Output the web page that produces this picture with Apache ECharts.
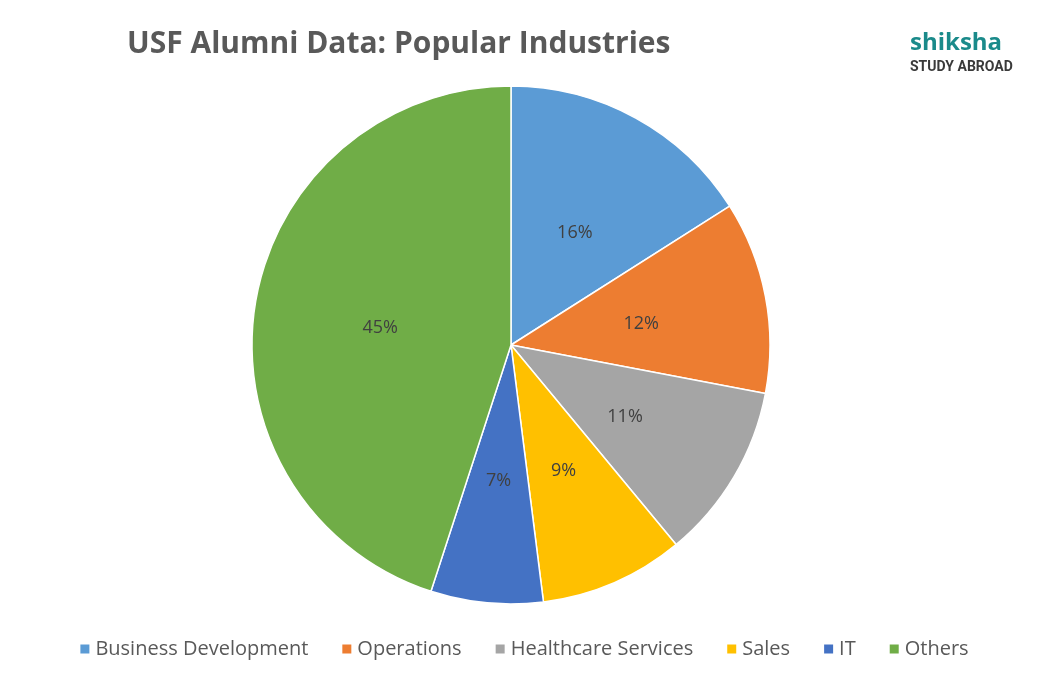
<!DOCTYPE html>
<html><head><meta charset="utf-8">
<script src="https://cdn.jsdelivr.net/npm/echarts@6/dist/echarts.min.js"></script>
<style>html,body{margin:0;padding:0;background:#fff}#chart{width:1047px;height:673px}</style>
</head><body><div id="chart"></div>
<script>
var categories = ['Business Development', 'Operations', 'Healthcare Services', 'Sales', 'IT', 'Others'];
var values = [16, 12, 11, 9, 7, 45];
var colors = ['#5b9bd5', '#ed7d31', '#a5a5a5', '#ffc000', '#4472c4', '#70ad47'];

var chart = echarts.init(document.getElementById('chart'));
chart.setOption({
    animation: false,
    color: colors,
    title: [{
        text: 'USF Alumni Data: Popular Industries',
        left: 122, top: 24,
        textStyle: {fontFamily: 'Open Sans', fontSize: 30, fontWeight: 'bold', color: '#595959'}
    }, {
        text: 'shiksha',
        left: 905, top: 26,
        textStyle: {fontFamily: 'Open Sans', fontSize: 24, fontWeight: 'bold', color: '#1a8a8a'}
    }, {
        text: 'STUDY ABROAD',
        left: 905, top: 55,
        textStyle: {fontFamily: 'Roboto', fontSize: 14, fontWeight: 'bold', color: '#3a3a3a'}
    }],
    legend: {
        bottom: 9, left: 'center',
        itemWidth: 11, itemHeight: 11, itemGap: 32, icon: 'rect',
        textStyle: {fontFamily: 'Open Sans', fontSize: 20, color: '#595959'},
        data: categories
    },
    series: [{
        type: 'pie',
        center: [511, 345],
        radius: 259,
        startAngle: 90,
        clockwise: true,
        label: {
            position: 'inside',
            formatter: '{c}%',
            fontFamily: 'Open Sans', fontSize: 18, color: '#404040',
            offset: [0, 4]
        },
        labelLine: {show: false},
        itemStyle: {borderColor: '#fff', borderWidth: 1.5},
        data: categories.map(function (c, i) { return {name: c, value: values[i]}; })
    }]
});
</script></body></html>
